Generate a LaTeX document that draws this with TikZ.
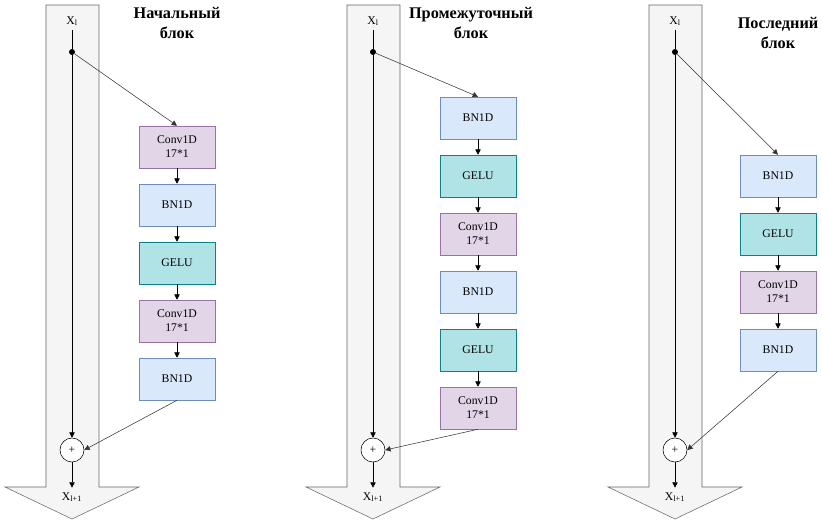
\documentclass[tikz,border=0pt]{standalone}
\usepackage{fontspec}
\setmainfont{Liberation Serif}
\usetikzlibrary{shapes,arrows.meta}

\definecolor{convfill}{HTML}{E1D5E7}
\definecolor{convline}{HTML}{9673A6}
\definecolor{bnfill}{HTML}{DAE8FC}
\definecolor{bnline}{HTML}{6C8EBF}
\definecolor{gelufill}{HTML}{B0E3E6}
\definecolor{geluline}{HTML}{0E8088}
\definecolor{shaftfill}{HTML}{F5F5F5}
\definecolor{shaftline}{HTML}{666666}

\begin{document}
\begin{tikzpicture}[x=0.75pt, y=-0.75pt,
    font=\fontsize{8.8}{10.5}\selectfont,
    layer/.style={draw, minimum width=57pt, minimum height=31.5pt, align=center, inner sep=1pt},
    conv/.style={layer, draw=convline, fill=convfill},
    bn/.style={layer, draw=bnline, fill=bnfill},
    gelu/.style={layer, draw=geluline, fill=gelufill},
    sum/.style={draw, circle, minimum size=18pt, inner sep=0pt, fill=white},
    dot/.style={circle, fill, inner sep=0pt, minimum size=4.5pt},
    title/.style={font=\fontsize{12.2}{14.5}\selectfont\bfseries, align=center},
    tip/.style={-{Triangle[length=4pt, width=4pt]}},
    node distance=43.5pt]
  \useasboundingbox (0,0) rectangle (822,519);

  % the wide gray arrows behind every block
  \foreach \cx in {72,373,675}
    \draw[shaftline, fill=shaftfill] (\cx-26,5) -- (\cx+27,5) -- (\cx+27,487) -- (\cx+67,487)
      -- (\cx,519) -- (\cx-67,487) -- (\cx-26,487) -- cycle;

  % first block
  \draw node [title] (t1) at (177,23) {Начальный\\блок};
  \draw node (x1) at (72,21) {X\textsubscript{l}};
  \draw node [dot] (d1) at (72,52) {};
  \draw node [sum] (s1) at (72,450) {+};
  \draw node (y1) at (72,497) {X\textsubscript{l+1}};
  \draw node [conv] (a1) at (177,147) {Conv1D\\17*1};
  \draw node [bn, below of=a1] (a2) {BN1D};
  \draw node [gelu, below of=a2] (a3) {GELU};
  \draw node [conv, below of=a3] (a4) {Conv1D\\17*1};
  \draw node [bn, below of=a4] (a5) {BN1D};
  \draw (x1.south) -- (d1);
  \draw[tip] (d1) -- (s1);
  \draw[tip] (s1) -- (y1.north);
  \draw[tip, black!80] (d1) -- (a1.north);
  \foreach \i/\j in {a1/a2,a2/a3,a3/a4,a4/a5}
    \draw[tip] (\i) -- (\j);
  \draw[tip, black!80] (a5.south) -- (s1.east);

  % middle block
  \draw node [title] (t2) at (471,23) {Промежуточный\\блок};
  \draw node (x2) at (373,21) {X\textsubscript{l}};
  \draw node [dot] (d2) at (373,52) {};
  \draw node [sum] (s2) at (373,450) {+};
  \draw node (y2) at (373,497) {X\textsubscript{l+1}};
  \draw node [bn] (b1) at (478,118) {BN1D};
  \draw node [gelu, below of=b1] (b2) {GELU};
  \draw node [conv, below of=b2] (b3) {Conv1D\\17*1};
  \draw node [bn, below of=b3] (b4) {BN1D};
  \draw node [gelu, below of=b4] (b5) {GELU};
  \draw node [conv, below of=b5] (b6) {Conv1D\\17*1};
  \draw (x2.south) -- (d2);
  \draw[tip] (d2) -- (s2);
  \draw[tip] (s2) -- (y2.north);
  \draw[tip, black!80] (d2) -- (b1.north);
  \foreach \i/\j in {b1/b2,b2/b3,b3/b4,b4/b5,b5/b6}
    \draw[tip] (\i) -- (\j);
  \draw[tip, black!80] (b6.south) -- (s2.east);

  % last block
  \draw node [title] (t3) at (778,33) {Последний\\блок};
  \draw node (x3) at (675,21) {X\textsubscript{l}};
  \draw node [dot] (d3) at (675,52) {};
  \draw node [sum] (s3) at (675,450) {+};
  \draw node (y3) at (675,497) {X\textsubscript{l+1}};
  \draw node [bn] (c1) at (778,176) {BN1D};
  \draw node [gelu, below of=c1] (c2) {GELU};
  \draw node [conv, below of=c2] (c3) {Conv1D\\17*1};
  \draw node [bn, below of=c3] (c4) {BN1D};
  \draw (x3.south) -- (d3);
  \draw[tip] (d3) -- (s3);
  \draw[tip] (s3) -- (y3.north);
  \draw[tip, black!80] (d3) -- (c1.north);
  \foreach \i/\j in {c1/c2,c2/c3,c3/c4}
    \draw[tip] (\i) -- (\j);
  \draw[tip, black!80] (c4.south) -- (s3.east);
\end{tikzpicture}
\end{document}
